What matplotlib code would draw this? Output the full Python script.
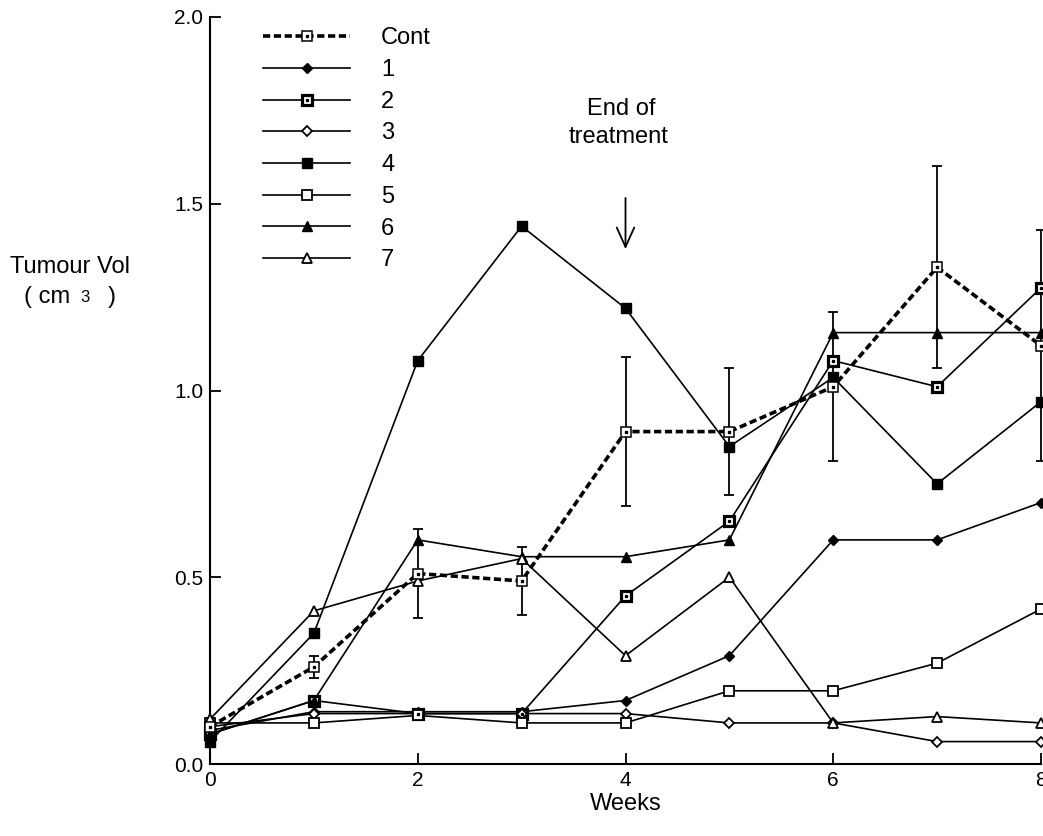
import matplotlib
matplotlib.use("Agg")
import matplotlib.pyplot as plt
from matplotlib.legend_handler import HandlerTuple

plt.rcParams['font.family'] = ['Liberation Sans', 'DejaVu Sans']

weeks = [0, 1, 2, 3, 4, 5, 6, 7, 8]
labels = ["Cont", "1", "2", "3", "4", "5", "6", "7"]

cont = [0.10, 0.26, 0.51, 0.49, 0.89, 0.89, 1.01, 1.33, 1.12]
cont_err = [0.0, 0.03, 0.12, 0.09, 0.20, 0.17, 0.20, 0.27, 0.31]
s1 = [0.09, 0.14, 0.14, 0.14, 0.17, 0.29, 0.60, 0.60, 0.70]
s2 = [0.08, 0.17, 0.135, 0.135, 0.45, 0.65, 1.08, 1.01, 1.275]
s3 = [0.10, 0.135, 0.135, 0.135, 0.135, 0.11, 0.11, 0.06, 0.06]
s4 = [0.06, 0.35, 1.08, 1.44, 1.22, 0.85, 1.035, 0.75, 0.97]
s5 = [0.11, 0.11, 0.13, 0.11, 0.11, 0.196, 0.196, 0.27, 0.415]
s6 = [0.08, 0.17, 0.60, 0.555, 0.555, 0.60, 1.155, 1.155, 1.155]
s7 = [0.12, 0.41, 0.49, 0.55, 0.29, 0.50, 0.11, 0.127, 0.11]

W, H = 1043, 836
fig = plt.figure(figsize=(W / 100, H / 100), dpi=100)
ax = fig.add_axes([210 / W, (H - 764) / H, (1041 - 210) / W, (764 - 17) / H])

lw = 1.2
k = 'black'

handles = []

# Control (dashed) with error bars
ax.errorbar(weeks, cont, yerr=cont_err, fmt='none', ecolor=k, elinewidth=1.3,
            capsize=3.3, capthick=1.3, zorder=2, clip_on=False)
hc, = ax.plot(weeks, cont, color=k, lw=2.6, dashes=(2.0, 1.0), marker='s', ms=6.5,
              mfc='white', mec=k, mew=1.1, zorder=4, clip_on=False)
hcd, = ax.plot(weeks, cont, ls='none', marker='s', ms=1.6, mfc=k, mec=k, zorder=5, clip_on=False)
handles.append((hc, hcd))

h1, = ax.plot(weeks, s1, color=k, lw=lw, marker='D', ms=5.5, mfc=k, mec=k, zorder=3, clip_on=False)
handles.append(h1)

h2, = ax.plot(weeks, s2, color=k, lw=lw, marker='s', ms=6.5, mfc='white', mec=k, mew=2.3, zorder=3, clip_on=False)
h2d, = ax.plot(weeks, s2, ls='none', marker='s', ms=1.4, mfc=k, mec=k, zorder=3.5, clip_on=False)
handles.append((h2, h2d))

h3, = ax.plot(weeks, s3, color=k, lw=lw, marker='D', ms=5.5, mfc='white', mec=k, mew=1.3, zorder=3, clip_on=False)
handles.append(h3)

h4, = ax.plot(weeks, s4, color=k, lw=lw, marker='s', ms=7, mfc=k, mec=k, zorder=3, clip_on=False)
handles.append(h4)

h5, = ax.plot(weeks, s5, color=k, lw=lw, marker='s', ms=7, mfc='white', mec=k, mew=1.3, zorder=3, clip_on=False)
handles.append(h5)

h6, = ax.plot(weeks, s6, color=k, lw=lw, marker='^', ms=7.5, mfc=k, mec=k, zorder=3, clip_on=False)
handles.append(h6)

h7, = ax.plot(weeks, s7, color=k, lw=lw, marker='^', ms=7.5, mfc='white', mec=k, mew=1.3, zorder=3, clip_on=False)
handles.append(h7)

leg = ax.legend(handles, labels, loc='upper left', bbox_to_anchor=(0.0638, 0.986),
                frameon=False, fontsize=17, handlelength=3.7, handletextpad=1.3,
                labelspacing=0.41, borderaxespad=0.0, borderpad=0.0,
                handler_map={tuple: HandlerTuple(ndivide=1, pad=0)})

ax.set_xlim(0, 8)
ax.set_ylim(0, 2.0)
ax.set_xticks([0, 2, 4, 6, 8])
ax.set_yticks([0.0, 0.5, 1.0, 1.5, 2.0])
ax.set_yticklabels(["0.0", "0.5", "1.0", "1.5", "2.0"])
ax.tick_params(direction='in', length=8, width=1.3, labelsize=15, pad=5)
for s in ['top', 'right']:
    ax.spines[s].set_visible(False)
for s in ['left', 'bottom']:
    ax.spines[s].set_linewidth(1.5)

ax.set_xlabel("Weeks", fontsize=17, labelpad=2)

# Y label (positioned like the original)
fig.text(10 / W, 1 - 273 / H, "Tumour Vol", fontsize=17, ha='left', va='baseline')
fig.text(24 / W, 1 - 303 / H, "( cm", fontsize=17, ha='left', va='baseline')
fig.text(80 / W, 1 - 302 / H, "3", fontsize=12, ha='left', va='baseline')
fig.text(108 / W, 1 - 303 / H, ")", fontsize=17, ha='left', va='baseline')

# End of treatment annotation
ax.text(3.96, 1.7376, "End of", fontsize=17, ha='center', va='baseline')
ax.text(3.93, 1.6627, "treatment", fontsize=17, ha='center', va='baseline')
ax.annotate("", xy=(4, 1.371), xytext=(4, 1.523),
            arrowprops=dict(arrowstyle='->,head_length=1.0,head_width=0.45',
                            mutation_scale=14, color=k, lw=1.3))

fig.savefig("out.png", dpi=100)
